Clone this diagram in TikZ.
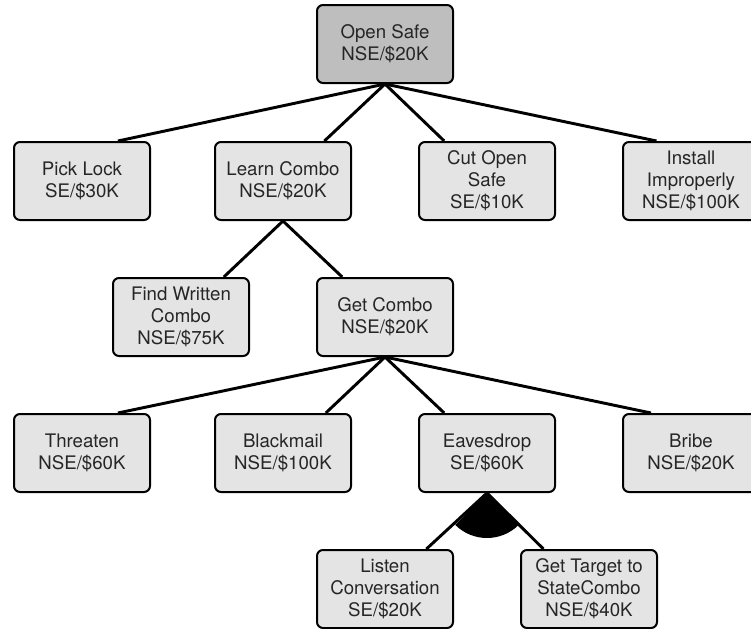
\documentclass[tikz,border=0pt]{standalone}
\usepackage{fontspec}
\setmainfont{TeX Gyre Heros}
\usetikzlibrary{calc}
\definecolor{boxfill}{HTML}{E4E4E4}
\definecolor{rootfill}{HTML}{BEBEBE}
\tikzset{
  tbox/.style={draw=black, line width=1.5pt, rounded corners=4.5pt, fill=boxfill,
    minimum width=102pt, minimum height=58.5pt, inner sep=0pt, align=center,
    font=\fontsize{14pt}{16.5pt}\selectfont, text=black!85},
  rootbox/.style={tbox, fill=rootfill},
  conn/.style={line width=2.2pt, black},
}
\newcommand{\tp}[2]{($(#1.north west)!#2!(#1.north east)$)}
\begin{document}
\begin{tikzpicture}[x=0.75pt,y=-0.75pt]
\useasboundingbox (0,0) rectangle (751,629);
\clip (0,0) rectangle (751,629);
\fill[white] (0,0) rectangle (751,629);
% nodes
\node[rootbox] (os) at (385,44) {Open Safe\\NSE/\$20K};
\node[tbox] (pl) at (82,181) {Pick Lock\\SE/\$30K};
\node[tbox] (lc) at (283,181) {Learn Combo\\NSE/\$20K};
\node[tbox] (co) at (487,181) {Cut Open\\Safe\\SE/\$10K};
\node[tbox] (ii) at (691,181) {Install\\Improperly\\NSE/\$100K};
\node[tbox] (fw) at (181,317) {Find Written\\Combo\\NSE/\$75K};
\node[tbox] (gc) at (385,317) {Get Combo\\NSE/\$20K};
\node[tbox] (th) at (82,453) {Threaten\\NSE/\$60K};
\node[tbox] (bm) at (283,453) {Blackmail\\NSE/\$100K};
\node[tbox] (ev) at (487,453) {Eavesdrop\\SE/\$60K};
\node[tbox] (br) at (691,453) {Bribe\\NSE/\$20K};
\node[tbox] (li) at (385,589) {Listen\\Conversation\\SE/\$20K};
\node[tbox] (gt) at (589,589) {Get Target to\\StateCombo\\NSE/\$40K};
% connectors
\draw[conn] (os.south) -- \tp{pl}{0.76};
\draw[conn] (os.south) -- \tp{lc}{0.8};
\draw[conn] (os.south) -- \tp{co}{0.19};
\draw[conn] (os.south) -- \tp{ii}{0.25};
\draw[conn] (lc.south) -- \tp{fw}{0.81};
\draw[conn] (lc.south) -- \tp{gc}{0.19};
\draw[conn] (gc.south) -- \tp{th}{0.76};
\draw[conn] (gc.south) -- \tp{bm}{0.81};
\draw[conn] (gc.south) -- \tp{ev}{0.19};
\draw[conn] (gc.south) -- \tp{br}{0.21};
\draw[conn] (ev.south) -- \tp{li}{0.8};
\draw[conn] (ev.south) -- \tp{gt}{0.17};
% AND arc
\fill[black] (ev.south) -- ++(-135:33.75pt) arc[start angle=-135, end angle=-45, radius=33.75pt] -- cycle;
\end{tikzpicture}
\end{document}
